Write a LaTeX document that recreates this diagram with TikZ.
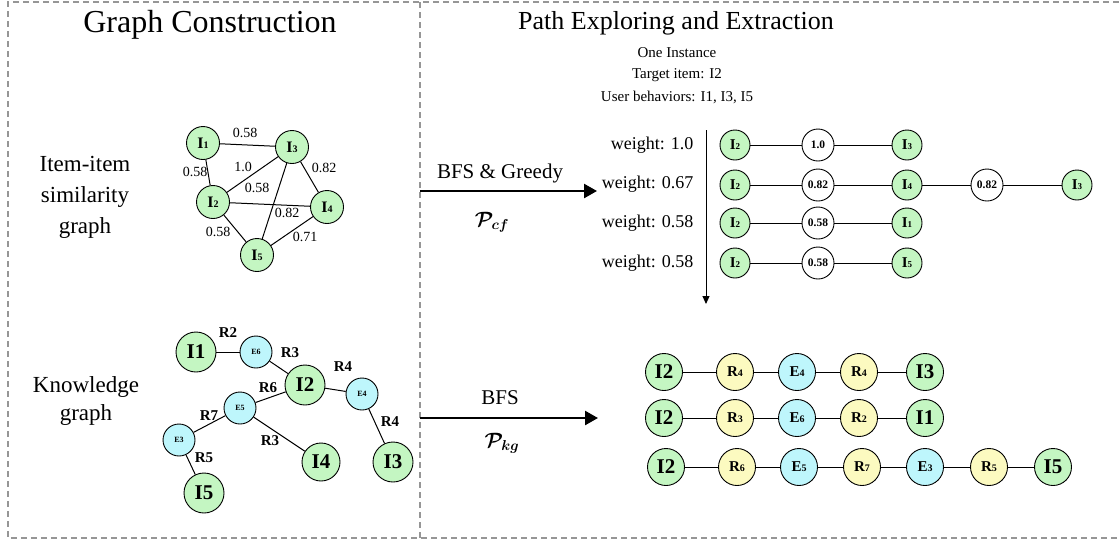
\documentclass[tikz,border=0pt]{standalone}
\usepackage{amsmath}
\usepackage{fontspec}
\setmainfont{Liberation Serif}
\usetikzlibrary{arrows.meta}

\definecolor{igreen}{RGB}{196,246,194}
\definecolor{ecyan}{RGB}{190,246,252}
\definecolor{ryellow}{RGB}{252,250,192}
\definecolor{framegray}{RGB}{150,150,150}

% bold letter followed by a smaller digit on the baseline
\newcommand{\smalldig}[4]{\textbf{{\fontsize{#3}{#3}\selectfont #1}{\fontsize{#4}{#4}\selectfont #2}}}
\newcommand{\fsz}[1]{\fontsize{#1}{#1}\selectfont}
% path set symbol with a bold subscript
\newcommand{\pathset}[1]{$\boldsymbol{\mathcal{P}_{#1}}$}

\begin{document}
\begin{tikzpicture}[x=1pt,y=-1pt,
  frame/.style={draw=framegray, line width=1.3pt, dash pattern=on 6pt off 4pt},
  edge/.style={draw, line width=1pt},
  simnode/.style={circle, draw, line width=0.9pt, fill=igreen, minimum size=33pt, inner sep=0pt},
  kgi/.style={circle, draw, line width=0.9pt, fill=igreen, minimum size=40pt, inner sep=0pt, font=\fsz{21}\bfseries},
  kge/.style={circle, draw, line width=0.9pt, fill=ecyan, minimum size=32pt, inner sep=0pt, font=\fsz{8}\bfseries},
  rowi/.style={circle, draw, line width=0.9pt, fill=igreen, minimum size=30pt, inner sep=0pt},
  roww/.style={circle, draw, line width=0.9pt, fill=white, minimum size=32pt, inner sep=0pt, font=\fsz{11.5}\bfseries},
  pi/.style={circle, draw, line width=0.9pt, fill=igreen, minimum size=37pt, inner sep=0pt, font=\fsz{21}\bfseries},
  pe/.style={circle, draw, line width=0.9pt, fill=ecyan, minimum size=37pt, inner sep=0pt},
  pr/.style={circle, draw, line width=0.9pt, fill=ryellow, minimum size=37pt, inner sep=0pt},
  wlab/.style={font=\fsz{14}, inner sep=1pt},
  rlab/.style={font=\fsz{15}\bfseries, inner sep=1pt},
  bigarrow/.style={line width=2.5pt, -{Triangle[length=13pt,width=14pt]}}
]
\useasboundingbox (0,0) rectangle (1119,539);

% dashed frame and divider
\draw[frame] (1119,2) -- (8,2) -- (8,538) -- (1119,538);
\draw[frame] (420,2) -- (420,538);

% titles
\node (t1) at (210,25) {\fsz{32}Graph Construction};
\node (t2) at (676,23) {\fsz{26}Path Exploring and Extraction};
\node (s1) at (677,53) {\fsz{15}One Instance};
\node (s2) at (677,75) {\fsz{15}Target item: I2};
\node (s3) at (677,97) {\fsz{15}User behaviors: I1, I3, I5};

% left captions
\node[align=center, font=\fsz{23}, inner sep=0pt] (c1) at (85,197) {Item-item\\[8pt]similarity\\[8pt]graph};
\node[align=center, font=\fsz{23}, inner sep=0pt] (c2) at (86,401) {Knowledge\\[5pt]graph};

% item-item similarity graph
\node[simnode] (a1) at (203,143) {\smalldig{I}{1}{16}{10}};
\node[simnode] (a3) at (292,147) {\smalldig{I}{3}{16}{10}};
\node[simnode] (a2) at (213,202) {\smalldig{I}{2}{16}{10}};
\node[simnode] (a4) at (327,207) {\smalldig{I}{4}{16}{10}};
\node[simnode] (a5) at (257,255) {\smalldig{I}{5}{16}{10}};
\draw[edge] (a1) -- (a3);
\draw[edge] (a1) -- (a2);
\draw[edge] (a2) -- (a3);
\draw[edge] (a3) -- (a5);
\draw[edge] (a3) -- (a4);
\draw[edge] (a2) -- (a4);
\draw[edge] (a2) -- (a5);
\draw[edge] (a4) -- (a5);
\node[wlab] (w13) at (245,133) {0.58};
\node[wlab] (w12) at (195,172) {0.58};
\node[wlab] (w23) at (243,167) {1.0};
\node[wlab] (w35) at (257,188) {0.58};
\node[wlab] (w34) at (324,168) {0.82};
\node[wlab] (w24) at (287,213) {0.82};
\node[wlab] (w25) at (218,232) {0.58};
\node[wlab] (w45) at (305,237) {0.71};

% knowledge graph
\node[kgi] (k1) at (196,352) {I1};
\node[kge] (ke6) at (256,352) {E6};
\node[kgi] (k2) at (305,385) {I2};
\node[kge] (ke4) at (362,394) {E4};
\node[kge] (ke5) at (240,408) {E5};
\node[kge] (ke3) at (179,440) {E3};
\node[kgi, minimum size=38pt] (k4) at (321,462) {I4};
\node[kgi] (k3) at (393,462) {I3};
\node[kgi] (k5) at (204,493) {I5};
\draw[edge] (k1) -- (ke6);
\draw[edge] (ke6) -- (k2);
\draw[edge] (k2) -- (ke4);
\draw[edge] (ke4) -- (k3);
\draw[edge] (k2) -- (ke5);
\draw[edge] (ke5) -- (k4);
\draw[edge] (ke5) -- (ke3);
\draw[edge] (ke3) -- (k5);
\node[rlab] (r2) at (228,333) {R2};
\node[rlab] (r3a) at (290,353) {R3};
\node[rlab] (r4a) at (343,367) {R4};
\node[rlab] (r6) at (268,388) {R6};
\node[rlab] (r7) at (209,416) {R7};
\node[rlab] (r3b) at (270,441) {R3};
\node[rlab] (r4b) at (390,422) {R4};
\node[rlab] (r5) at (204,458) {R5};

% transition arrows
\coordinate (ca0) at (420,191);
\coordinate (ca1) at (597,191);
\draw[bigarrow] (ca0) -- (ca1);
\node (bg) at (500,173) {\fsz{21}BFS \& Greedy};
\node (pcf) at (492,222) {\fsz{22}\pathset{cf}};
\coordinate (cb0) at (420,418);
\coordinate (cb1) at (598,418);
\draw[bigarrow] (cb0) -- (cb1);
\node (bfs) at (500,398) {\fsz{21}BFS};
\node (pkg) at (502,443) {\fsz{22}\pathset{kg}};

% weighted paths
\coordinate (v0) at (706,130);
\coordinate (v1) at (706,304);
\draw[line width=1pt, -{Triangle[length=8pt,width=7pt]}] (v0) -- (v1);
\node[font=\fsz{18}, anchor=east] (wt1) at (697,145) {weight: 1.0};
\node[font=\fsz{18}, anchor=east] (wt2) at (697,184) {weight: 0.67};
\node[font=\fsz{18}, anchor=east] (wt3) at (697,223) {weight: 0.58};
\node[font=\fsz{18}, anchor=east] (wt4) at (697,263) {weight: 0.58};

\node[rowi] (p1a) at (735,145) {\smalldig{I}{2}{15}{9}};
\node[roww] (p1b) at (818,145) {1.0};
\node[rowi] (p1c) at (907,145) {\smalldig{I}{3}{15}{9}};
\draw[edge] (p1a) -- (p1b) -- (p1c);

\node[rowi] (p2a) at (735,185) {\smalldig{I}{2}{15}{9}};
\node[roww] (p2b) at (818,185) {0.82};
\node[rowi] (p2c) at (907,185) {\smalldig{I}{4}{15}{9}};
\node[roww] (p2d) at (987,185) {0.82};
\node[rowi] (p2e) at (1077,185) {\smalldig{I}{3}{15}{9}};
\draw[edge] (p2a) -- (p2b) -- (p2c) -- (p2d) -- (p2e);

\node[rowi] (p3a) at (735,223) {\smalldig{I}{2}{15}{9}};
\node[roww] (p3b) at (818,223) {0.58};
\node[rowi] (p3c) at (907,223) {\smalldig{I}{1}{15}{9}};
\draw[edge] (p3a) -- (p3b) -- (p3c);

\node[rowi] (p4a) at (735,263) {\smalldig{I}{2}{15}{9}};
\node[roww] (p4b) at (818,263) {0.58};
\node[rowi] (p4c) at (907,263) {\smalldig{I}{5}{15}{9}};
\draw[edge] (p4a) -- (p4b) -- (p4c);

% knowledge paths
\node[pi] (q1a) at (664,372) {I2};
\node[pr] (q1b) at (735,372) {\smalldig{R}{4}{15}{10}};
\node[pe] (q1c) at (797,372) {\smalldig{E}{4}{15}{10}};
\node[pr] (q1d) at (859,372) {\smalldig{R}{4}{15}{10}};
\node[pi] (q1e) at (925,372) {I3};
\draw[edge] (q1a) -- (q1b) -- (q1c) -- (q1d) -- (q1e);

\node[pi] (q2a) at (664,418) {I2};
\node[pr] (q2b) at (735,418) {\smalldig{R}{3}{15}{10}};
\node[pe] (q2c) at (797,418) {\smalldig{E}{6}{15}{10}};
\node[pr] (q2d) at (859,418) {\smalldig{R}{2}{15}{10}};
\node[pi] (q2e) at (925,418) {I1};
\draw[edge] (q2a) -- (q2b) -- (q2c) -- (q2d) -- (q2e);

\node[pi] (q3a) at (666,467) {I2};
\node[pr] (q3b) at (737,467) {\smalldig{R}{6}{15}{10}};
\node[pe] (q3c) at (799,467) {\smalldig{E}{5}{15}{10}};
\node[pr] (q3d) at (862,467) {\smalldig{R}{7}{15}{10}};
\node[pe] (q3e) at (925,467) {\smalldig{E}{3}{15}{10}};
\node[pr] (q3f) at (989,467) {\smalldig{R}{5}{15}{10}};
\node[pi] (q3g) at (1053,467) {I5};
\draw[edge] (q3a) -- (q3b) -- (q3c) -- (q3d) -- (q3e) -- (q3f) -- (q3g);
\end{tikzpicture}
\end{document}
